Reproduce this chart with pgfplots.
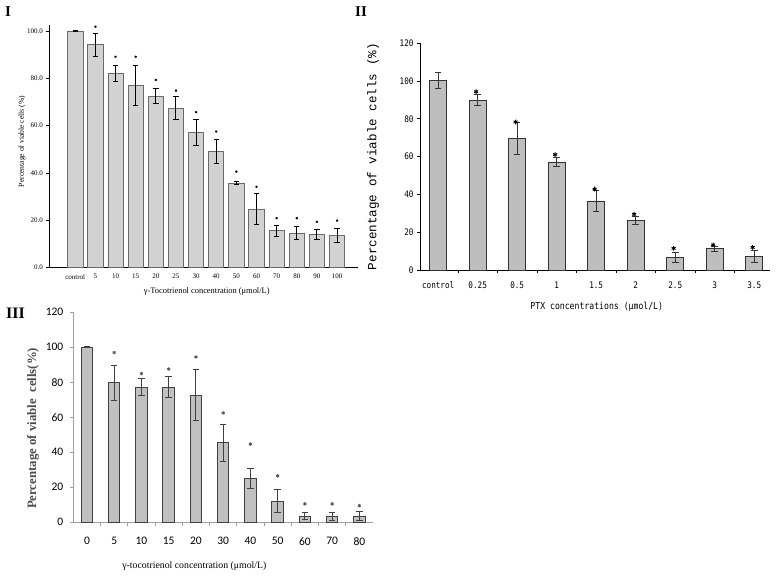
\documentclass[border=0pt]{standalone}
\usepackage{fontspec}
\setmainfont{Liberation Serif}
\newfontfamily\cmono[FakeStretch=0.85]{DejaVu Sans Mono}
\newfontfamily\lmono{Liberation Mono}
\newfontfamily\carl{Carlito}
\usepackage{pgfplots}
\pgfplotsset{compat=1.18}
\definecolor{barI}{HTML}{D2D2D2}
\definecolor{edgeI}{HTML}{6A6A6A}
\definecolor{barII}{HTML}{BEBEBE}
\definecolor{edgeII}{HTML}{333333}
\definecolor{barIII}{HTML}{C0C0C0}
\definecolor{edgeIII}{HTML}{404040}
\definecolor{axIII}{HTML}{A0A0A0}
\begin{document}
\begin{tikzpicture}
\path[use as bounding box] (0pt,0pt) rectangle (778pt,-577pt);
\node[font=\fontsize{15}{15}\selectfont\bfseries] at (8pt,-11.5pt) {I};
\node[font=\fontsize{15}{15}\selectfont\bfseries] at (361pt,-12pt) {II};
\node[font=\fontsize{16}{16}\selectfont\bfseries] at (15.5pt,-313.5pt) {III};

% ---------------- Panel I ----------------
\begin{axis}[at={(49.3pt,-267.7pt)}, anchor=south west, scale only axis,
  width=308.7pt, height=242.7pt,
  xmin=-1.29, xmax=14.04, ymin=0, ymax=102.5,
  axis x line*=bottom, axis y line*=left,
  axis line style={black, line width=1.3pt, -},
  xtick={0,...,13},
  xticklabels={control,5,10,15,20,25,30,40,50,60,70,80,90,100},
  ytick={0,20,40,60,80,100},
  yticklabels={0.0,20.0,40.0,60.0,80.0,100.0},
  major x tick style={draw=none},
  tick align=outside, major tick length=3pt,
  y tick style={black, line width=0.8pt},
  tick label style={font=\fontsize{7}{7}\selectfont},
  ylabel={Percentage of viable cells (\%)},
  ylabel style={at={(axis description cs:-0.088,0.52)}, anchor=center, font=\fontsize{7.6}{8}\selectfont},
  xlabel={γ-Tocotrienol concentration (μmol/L)},
  xlabel style={at={(axis description cs:0.51,-0.096)}, anchor=center, font=\fontsize{8.4}{9}\selectfont},
]
\addplot[ybar, bar width=15.3pt, fill=barI, draw=edgeI, line width=0.8pt,
  error bars/.cd, y dir=both, y explicit, error mark=-,
  error bar style={black, line width=1pt},
  error mark options={rotate=90, black, mark size=2.7pt, line width=1pt}]
coordinates {
(0,100) +- (0,0.2)
(1,94.1) +- (0,4.8)
(2,82.1) +- (0,3.4)
(3,76.8) +- (0,8.4)
(4,72.4) +- (0,3.1)
(5,67.3) +- (0,4.8)
(6,57.2) +- (0,5.5)
(7,49.2) +- (0,5.0)
(8,35.7) +- (0,0.7)
(9,24.8) +- (0,6.5)
(10,15.6) +- (0,2.4)
(11,14.5) +- (0,2.8)
(12,14.1) +- (0,2.0)
(13,13.7) +- (0,2.9)
};
\addplot[only marks, mark=asterisk, mark size=1.2pt, black, line width=0.6pt]
coordinates {(1,101.8) (2,89.1) (3,89.1) (4,79.3) (5,74.8) (6,65.7) (7,57.5) (8,40.6) (9,34.2) (10,20.9) (11,20.9) (12,19.4) (13,19.9)};
\end{axis}

% ---------------- Panel II ----------------
\begin{axis}[at={(420pt,-270.3pt)}, anchor=south west, scale only axis,
  width=350pt, height=227.3pt,
  xmin=-0.46, xmax=8.4, ymin=0, ymax=120,
  axis x line*=bottom, axis y line*=left,
  axis line style={black, line width=0.8pt, -},
  xtick={0,...,8},
  xticklabels={control,0.25,0.5,1,1.5,2,2.5,3,3.5},
  minor xtick={0.5,1.5,...,7.5},
  ytick={0,20,...,120},
  yticklabels={0,20,40,60,80,100,120},
  major x tick style={draw=none},
  minor x tick style={black, line width=0.7pt},
  tick align=outside, major tick length=3pt, minor tick length=2.5pt,
  y tick style={black, line width=0.7pt},
  tick label style={font=\cmono\fontsize{9}{10}\selectfont},
  xticklabel style={yshift=-5pt},
  ylabel={Percentage of viable cells (\%)},
  ylabel style={at={(axis description cs:-0.134,0.5)}, anchor=center, font=\lmono\fontsize{12.6}{13}\selectfont},
  xlabel={PTX concentrations (μmol/L)},
  xlabel style={at={(axis description cs:0.505,-0.16)}, anchor=center, font=\cmono\fontsize{9.6}{10}\selectfont},
]
\addplot[ybar, bar width=16.7pt, fill=barII, draw=edgeII, line width=0.8pt,
  error bars/.cd, y dir=both, y explicit, error mark=-,
  error bar style={edgeII, line width=0.8pt},
  error mark options={rotate=90, edgeII, mark size=3.3pt, line width=0.8pt}]
coordinates {
(0,100.1) +- (0,4.3)
(1,89.9) +- (0,3.0)
(2,69.7) +- (0,8.4)
(3,57.2) +- (0,2.5)
(4,36.6) +- (0,5.5)
(5,26.2) +- (0,2.0)
(6,7.0) +- (0,2.7)
(7,11.4) +- (0,1.2)
(8,7.4) +- (0,3.1)
};
\addplot[only marks, mark=asterisk, mark size=2.3pt, black, line width=0.9pt]
coordinates {(0.96,94.3) (1.96,78.3) (2.96,61.1) (3.96,42.9) (4.96,29.6) (5.96,11.6) (6.96,13.4) (7.96,12.1)};
\end{axis}

% ---------------- Panel III ----------------
\begin{axis}[at={(73.3pt,-522.3pt)}, anchor=south west, scale only axis,
  width=299.7pt, height=210pt,
  xmin=-0.5, xmax=10.5, ymin=0, ymax=120,
  axis x line*=bottom, axis y line*=left,
  axis line style={axIII, line width=0.8pt, -},
  xtick={0,...,10},
  xticklabels={0,5,10,15,20,30,40,50,60,70,80},
  minor xtick={0.5,1.5,...,9.5},
  ytick={0,20,...,120},
  yticklabels={0,20,40,60,80,100,120},
  major x tick style={draw=none},
  minor x tick style={axIII, line width=0.7pt},
  tick align=outside, major tick length=3.5pt, minor tick length=4pt,
  y tick style={axIII, line width=0.7pt},
  tick label style={font=\carl\fontsize{11.5}{12}\selectfont},
  yticklabel style={xshift=-3pt},
  xticklabel style={yshift=-8pt},
  ylabel={Percentage of viable\ \ cells(\%)},
  ylabel style={at={(axis description cs:-0.1345,0.447)}, anchor=center, font=\fontsize{12.8}{13}\selectfont\bfseries, text=black!70},
  xlabel={γ-tocotrienol concentration (μmol/L)},
  xlabel style={at={(axis description cs:0.404,-0.211)}, anchor=center, font=\fontsize{9.8}{10}\selectfont},
]
\addplot[ybar, bar width=11.5pt, fill=barIII, draw=edgeIII, line width=0.9pt,
  error bars/.cd, y dir=both, y explicit, error mark=-,
  error bar style={edgeIII, line width=0.9pt},
  error mark options={rotate=90, edgeIII, mark size=3.3pt, line width=0.9pt}]
coordinates {
(0,100) +- (0,0.3)
(1,79.8) +- (0,10)
(2,77.3) +- (0,5)
(3,77.3) +- (0,6.2)
(4,72.7) +- (0,14.6)
(5,45.5) +- (0,10.6)
(6,24.9) +- (0,5.8)
(7,12) +- (0,6.5)
(8,3.6) +- (0,2.2)
(9,3.5) +- (0,2.2)
(10,3.6) +- (0,2.5)
};
\addplot[only marks, mark=asterisk, mark size=1.8pt, black!65, line width=0.8pt]
coordinates {(1,97) (2,85) (3,87.6) (4,94.5) (5,62.5) (6,44.7) (7,26.5) (8,10.5) (9,10.5) (10,9.5)};
\end{axis}
\end{tikzpicture}
\end{document}
